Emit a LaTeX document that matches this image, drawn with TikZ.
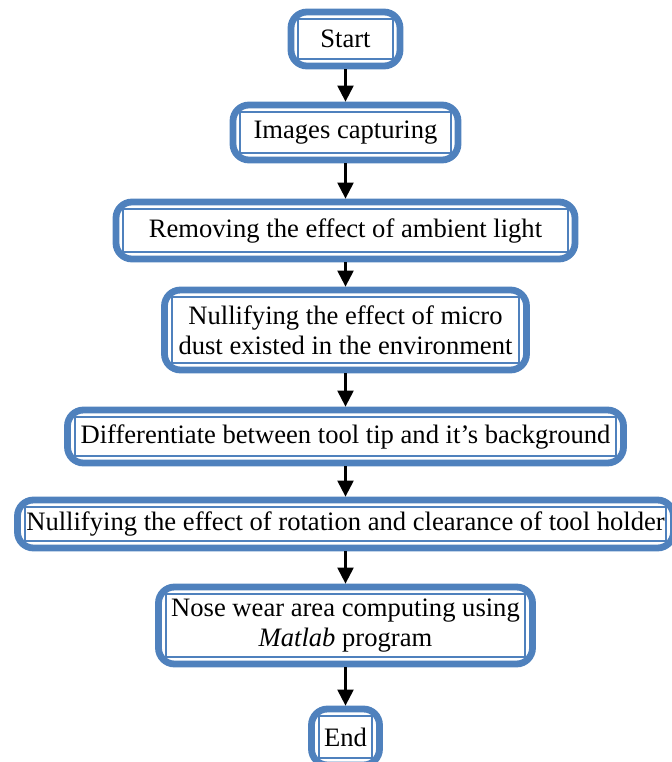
\documentclass[tikz,border=0pt]{standalone}
\usepackage{fontspec}
\setmainfont{Liberation Serif}
\usetikzlibrary{arrows.meta,positioning}
\definecolor{boxblue}{HTML}{4F81BD}
\tikzset{>={Triangle[length=8pt,width=8pt]}}
\tikzset{
  stepbox/.style={rectangle,draw=boxblue,line width=3.4pt,rounded corners=8pt,fill=white,
    inner sep=0pt,outer sep=0pt,align=center,font=\fontsize{13.3}{15}\selectfont},
  innerline/.style={draw=boxblue,line width=1pt},
  flow/.style={->,line width=1.1pt,shorten <=1.7pt,shorten >=1.7pt}
}

\begin{document}
\begin{tikzpicture}[x=0.5pt,y=-0.5pt]
  \useasboundingbox (0,0) rectangle (672,762);
  \node[stepbox,minimum width=54.5pt,minimum height=27pt] (Start) at (345.5,39) {Start};
  \node[stepbox,minimum width=112.5pt,minimum height=27.5pt,below=19.5pt of Start] (Capture) {Images capturing};
  \node[stepbox,minimum width=229.5pt,minimum height=28.5pt,below=21pt of Capture] (Ambient) {Removing the effect of ambient light};
  \node[stepbox,minimum width=181pt,minimum height=40pt,below=15.5pt of Ambient] (Dust) {Nullifying the effect of micro\\dust existed in the environment};
  \node[stepbox,minimum width=278pt,minimum height=26.5pt,below=20pt of Dust] (Tip) {Differentiate between tool tip and it’s background};
  \node[stepbox,minimum width=328pt,minimum height=24pt,below=18.5pt of Tip] (Holder) {Nullifying the effect of rotation and clearance of tool holder};
  \node[stepbox,minimum width=187pt,minimum height=38.5pt,below=19.5pt of Holder] (Wear) {Nose wear area computing using\\\textit{Matlab} program};
  \node[stepbox,minimum width=34pt,minimum height=28pt,below=22.5pt of Wear] (End) {End};
  % inner frames
  \foreach \n in {Start,Capture,Ambient,Dust,Tip,Holder,Wear,End}
    \draw[innerline] ([shift={(3.6pt,-3.6pt)}]\n.north west) rectangle ([shift={(-3.6pt,3.6pt)}]\n.south east);
  \draw[flow] (Start) -- (Capture);
  \draw[flow] (Capture) -- (Ambient);
  \draw[flow] (Ambient) -- (Dust);
  \draw[flow] (Dust) -- (Tip);
  \draw[flow] (Tip) -- (Holder);
  \draw[flow] (Holder) -- (Wear);
  \draw[flow] (Wear) -- (End);
\end{tikzpicture}
\end{document}
